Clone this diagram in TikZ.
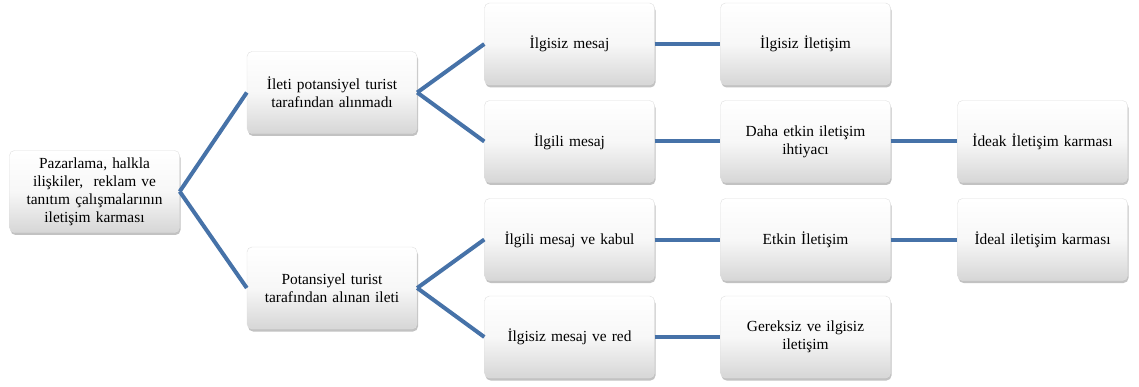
\documentclass[tikz,border=0pt]{standalone}
\usepackage{fontspec}
\setmainfont{Liberation Serif}
\usetikzlibrary{shadows}
\definecolor{linkblue}{RGB}{70,114,168}
\tikzset{
  box/.style={rectangle, rounded corners=5pt, minimum width=170pt, minimum height=82pt,
    text width=164pt, align=center, inner sep=2pt,
    draw=gray!25, line width=0.4pt,
    top color=white, bottom color=gray!32, middle color=gray!6,
    drop shadow={shadow xshift=1pt, shadow yshift=-2.5pt, opacity=0.4, fill=black!60},
    font=\fontsize{15.4}{18}\selectfont},
  link/.style={draw=linkblue, line width=4pt}
}
\begin{document}
\begin{tikzpicture}[x=1pt,y=-1pt]
\useasboundingbox (0,0) rectangle (1139,387);
\node[box] (root) at (94.5,191.5) {Pazarlama, halkla\\ilişkiler,\ \ reklam ve\\tanıtım çalışmalarının\\iletişim karması};
\node[box] (a1) at (332,92.5) {İleti potansiyel turist\\tarafından alınmadı};
\node[box] (a2) at (332,288) {Potansiyel turist\\tarafından alınan ileti};
\node[box] (b1) at (569.5,44) {İlgisiz mesaj};
\node[box] (b2) at (569.5,141.5) {İlgili mesaj};
\node[box] (b3) at (569.5,239.5) {İlgili mesaj ve kabul};
\node[box] (b4) at (569.5,337) {İlgisiz mesaj ve red};
\node[box] (c1) at (805.5,44) {İlgisiz İletişim};
\node[box] (c2) at (805.5,141.5) {Daha etkin iletişim\\ihtiyacı};
\node[box] (c3) at (805.5,239.5) {Etkin İletişim};
\node[box] (c4) at (805.5,337) {Gereksiz ve ilgisiz\\iletişim};
\node[box] (d2) at (1042.5,141.5) {İdeak İletişim karması};
\node[box] (d3) at (1042.5,239.5) {İdeal iletişim karması};
\draw[link] (root.east) -- (a1.west);
\draw[link] (root.east) -- (a2.west);
\draw[link] (a1.east) -- (b1.west);
\draw[link] (a1.east) -- (b2.west);
\draw[link] (a2.east) -- (b3.west);
\draw[link] (a2.east) -- (b4.west);
\draw[link] (b1.east) -- (c1.west);
\draw[link] (b2.east) -- (c2.west);
\draw[link] (b3.east) -- (c3.west);
\draw[link] (b4.east) -- (c4.west);
\draw[link] (c2.east) -- (d2.west);
\draw[link] (c3.east) -- (d3.west);
\end{tikzpicture}
\end{document}
